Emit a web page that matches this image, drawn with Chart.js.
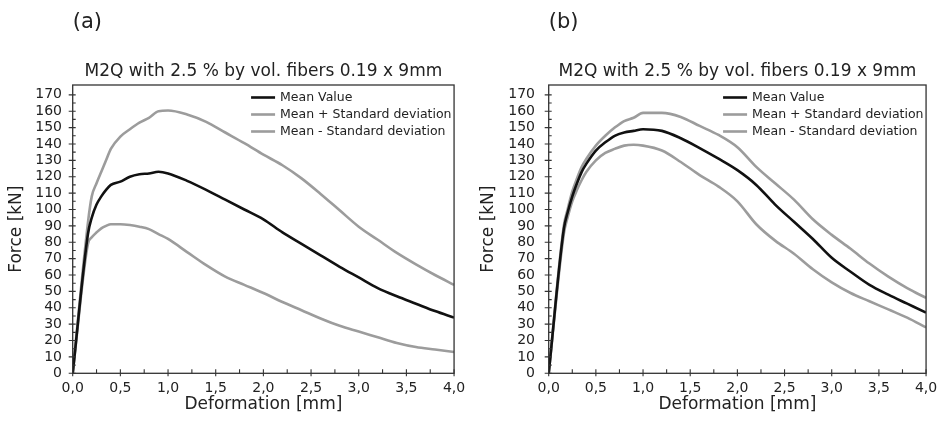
<!DOCTYPE html>
<html>
<head>
<meta charset="utf-8">
<script src="https://cdn.jsdelivr.net/npm/chart.js@4.4.1/dist/chart.umd.min.js"></script>
<style>
  html, body { margin: 0; padding: 0; background: #fff; }
  .row { display: flex; width: 944px; height: 423px; }
  .panel { width: 472px; height: 423px; }
</style>
</head>
<body>
<div class="row">
  <div class="panel"><canvas id="chart-a" width="472" height="423"></canvas></div>
  <div class="panel"><canvas id="chart-b" width="472" height="423"></canvas></div>
</div>
<script>
// shared deformation steps [mm]
const deformation = [0, 0.16, 0.2, 0.25, 0.3, 0.35, 0.4, 0.5, 0.6, 0.7, 0.8, 0.9, 1.0, 1.2, 1.4, 1.6, 1.8, 2.0, 2.2, 2.4, 2.6, 2.8, 3.0, 3.2, 3.4, 3.6, 3.8, 4.0];

// (a) force [kN]
const meanA  = [0, 85, 95, 103, 108, 112, 115, 117, 120, 121.5, 122, 123, 122, 117.5, 112, 106, 100, 94, 86, 79, 72, 65, 58.5, 52, 47, 42.5, 38, 34];
const upperA = [0, 92, 108, 116, 123, 130, 137, 144.5, 149, 153, 156, 160, 160.4, 158, 153.5, 147, 140.5, 133.5, 127, 119, 109.5, 99.5, 89.5, 81.5, 73.5, 66.5, 60, 54];
const lowerA = [0, 79, 83, 86, 88.5, 90, 91, 91, 90.5, 89.5, 88, 85, 82, 74, 66, 59, 54, 49, 43.5, 38.5, 33.5, 29, 25.5, 22, 18.5, 16, 14.5, 13];

// (b) force [kN]
const meanB  = [0, 88, 98, 108, 116, 123, 128, 136, 141, 145, 147, 148, 149, 148, 143.5, 137.5, 131, 124, 115, 103, 92.5, 82, 70.5, 62, 54, 48, 42.5, 37];
const upperB = [0, 90, 100, 111, 119, 126, 131, 139, 145, 150, 154, 156, 159, 159, 156.5, 151, 145.5, 138, 126, 116, 106, 94, 84.5, 76, 67, 59, 52, 46];
const lowerB = [0, 85, 95, 105, 112, 118, 123, 130, 134.5, 137, 139, 139.5, 139, 136, 129, 121, 114, 105, 91, 81, 73, 63.5, 55.5, 49, 44, 39, 34, 28];

const seriesLabels = ['Mean Value', 'Mean + Standard deviation', 'Mean - Standard deviation'];
const seriesColors = ['#111111', '#9c9c9c', '#9c9c9c'];
const xTickLabels = ['0,0', '0,5', '1,0', '1,5', '2,0', '2,5', '3,0', '3,5', '4,0'];

const FONT = '"DejaVu Sans", Arial, sans-serif';
const INK = '#222';

function points(ys) {
    return deformation.map((d, i) => ({ x: d, y: ys[i] }));
}

// box around the plot + major/minor tick marks
const frameTicks = {
    id: 'frameTicks',
    afterDraw(chart) {
        const { ctx, chartArea: a, scales: { x, y } } = chart;
        ctx.save();
        ctx.strokeStyle = '#333';
        ctx.lineWidth = 1.3;
        ctx.strokeRect(a.left, a.top, a.right - a.left, a.bottom - a.top);
        ctx.lineWidth = 1.1;
        ctx.beginPath();
        for (let v = 0; v <= 170; v += 5) {
            const py = y.getPixelForValue(v);
            const major = v % 10 === 0;
            ctx.moveTo(a.left - (major ? 4 : 0), py);
            ctx.lineTo(a.left + 3, py);
        }
        for (let v = 0; v <= 4; v += 0.25) {
            const px = x.getPixelForValue(v);
            const major = Math.abs(v * 2 - Math.round(v * 2)) < 1e-6;
            ctx.moveTo(px, a.bottom + (major ? 3 : 0));
            ctx.lineTo(px, a.bottom - 4);
        }
        ctx.stroke();
        ctx.restore();
    }
};

// legend stacked in the upper right corner of the plot
const cornerLegend = {
    id: 'cornerLegend',
    afterDatasetsDraw(chart) {
        const { ctx, chartArea: a } = chart;
        ctx.save();
        ctx.font = '12.5px ' + FONT;
        ctx.textBaseline = 'middle';
        ctx.fillStyle = INK;
        chart.data.datasets.forEach((ds, i) => {
            const ly = a.top + 12.5 + i * 17;
            ctx.strokeStyle = ds.borderColor;
            ctx.lineWidth = 2.6;
            ctx.beginPath();
            ctx.moveTo(a.right - 203, ly);
            ctx.lineTo(a.right - 179, ly);
            ctx.stroke();
            ctx.fillText(ds.label, a.right - 174, ly + 0.5);
        });
        ctx.restore();
    }
};

function makeChart(canvasId, tag, mean, upper, lower, axisWidth, rightPad, labelPad) {
    return new Chart(document.getElementById(canvasId), {
        type: 'line',
        data: {
            datasets: [mean, upper, lower].map((ys, i) => ({
                label: seriesLabels[i],
                data: points(ys),
                borderColor: seriesColors[i],
                borderWidth: 2.6,
                pointRadius: 0,
                cubicInterpolationMode: 'monotone'
            }))
        },
        options: {
            responsive: false,
            animation: false,
            layout: { padding: { left: 0, right: rightPad, top: 0, bottom: 0 } },
            plugins: {
                legend: { display: false },
                tooltip: { enabled: false },
                title: {
                    display: true,
                    text: tag,
                    align: 'start',
                    fullSize: false,
                    color: INK,
                    font: { family: FONT, size: 21, weight: 'normal' },
                    padding: { top: 10, bottom: 0 }
                },
                subtitle: {
                    display: true,
                    text: 'M2Q with 2.5 % by vol. fibers 0.19 x 9mm',
                    fullSize: false,
                    color: INK,
                    font: { family: FONT, size: 17 },
                    padding: { top: 26.6, bottom: 2.8 }
                }
            },
            scales: {
                x: {
                    type: 'linear',
                    min: 0,
                    max: 4,
                    afterFit: s => { s.height = 49.7; },
                    grid: { drawOnChartArea: false, drawTicks: false },
                    border: { display: false },
                    ticks: {
                        stepSize: 0.5,
                        autoSkip: false,
                        maxRotation: 0,
                        padding: 6.8,
                        color: INK,
                        font: { family: FONT, size: 14 },
                        callback: (v, i) => xTickLabels[i]
                    },
                    title: {
                        display: true,
                        text: 'Deformation [mm]',
                        color: INK,
                        font: { family: FONT, size: 17 },
                        padding: { top: 0, bottom: 8 }
                    }
                },
                y: {
                    min: 0,
                    max: 176,
                    afterFit: s => { s.width = axisWidth; },
                    grid: { drawOnChartArea: false, drawTicks: false },
                    border: { display: false },
                    ticks: {
                        stepSize: 10,
                        includeBounds: false,
                        autoSkip: false,
                        padding: labelPad,
                        color: INK,
                        font: { family: FONT, size: 14 }
                    },
                    title: {
                        display: true,
                        text: 'Force [kN]',
                        color: INK,
                        font: { family: FONT, size: 17 },
                        padding: { top: 6.6, bottom: 0 }
                    }
                }
            }
        },
        plugins: [frameTicks, cornerLegend]
    });
}

//////////////////////////////////////////////// Chart (a)
makeChart('chart-a', '(a)', meanA, upperA, lowerA, 72.7, 15.3, 10.7);

//////////////////////////////////////////////// Chart (b)
makeChart('chart-b', '(b)', meanB, upperB, lowerB, 76.7, 11, 13.7);
</script>
</body>
</html>
